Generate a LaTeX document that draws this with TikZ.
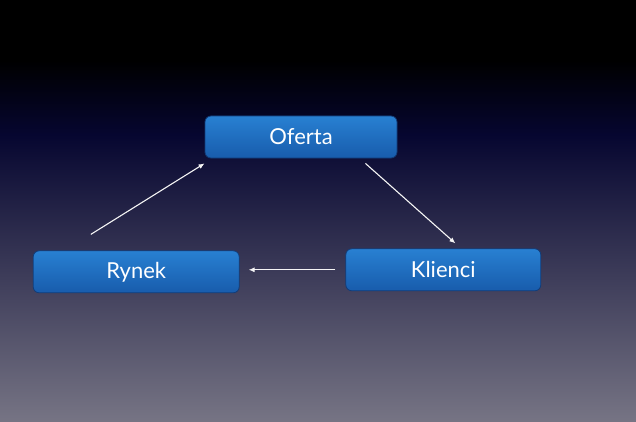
\documentclass[tikz,border=0pt]{standalone}
\usepackage{fontspec}
\setmainfont{Lato}
\usepackage{tikz}
\usetikzlibrary{positioning,arrows.meta}

\definecolor{skytop}{RGB}{0,0,0}
\definecolor{skymid}{RGB}{6,6,48}
\definecolor{skybot}{RGB}{118,116,132}
\definecolor{boxtop}{RGB}{40,128,210}
\definecolor{boxbot}{RGB}{24,92,172}
\definecolor{boxline}{RGB}{18,60,120}

\begin{document}
\begin{tikzpicture}[x=1pt,y=1pt,font=\fontsize{22}{24}\selectfont,>={Latex[length=6pt,width=5pt]}]
\tikzstyle{stage}=[draw=boxline,line width=0.8pt,rounded corners=6pt,
  top color=boxtop,bottom color=boxbot,text=white,minimum height=42pt]
\tikzstyle{link}=[->,white!92!gray,line width=1.1pt]

% background
\useasboundingbox (0,0) rectangle (636,421);
\fill[skytop] (0,360) rectangle (636,421);
\shade[top color=skytop,bottom color=skymid] (0,286) rectangle (636,360.5);
\shade[top color=skymid,bottom color=skybot] (0,0) rectangle (636,286.5);

\node[stage,minimum width=192pt] (oferta) at (301,284) {Oferta};
\node[stage,minimum width=195pt,below right=90pt and -52pt of oferta] (klienci) {Klienci};
\node[stage,minimum width=206pt,below left=92pt and -35pt of oferta] (rynek) {Rynek};

\coordinate (rynekout) at ([xshift=58pt,yshift=16pt]rynek.north west);
\coordinate (ofertain) at ([yshift=-5pt]oferta.south west);
\coordinate (ofertaout) at ([xshift=-32pt,yshift=-5pt]oferta.south east);
\coordinate (klienciin) at ([xshift=110pt,yshift=5pt]klienci.north west);

\draw[link] (ofertaout) -- (klienciin);
\draw[link] ([xshift=-10pt]klienci.west) -- ([xshift=9pt,yshift=2pt]rynek.east);
\draw[link] (rynekout) -- (ofertain);
\end{tikzpicture}
\end{document}
